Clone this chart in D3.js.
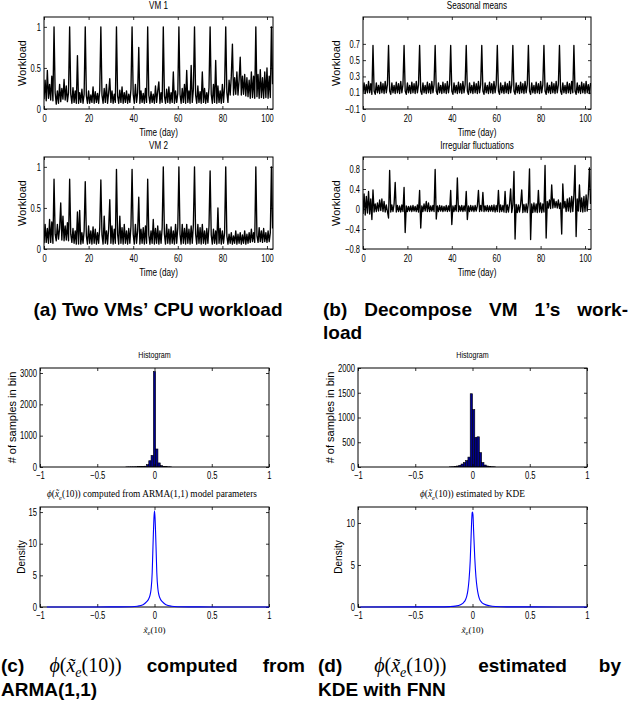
<!DOCTYPE html>
<html><head><meta charset="utf-8">
<script src="https://cdn.jsdelivr.net/npm/d3@7"></script>
<style>body{margin:0;background:#fff}svg{display:block}</style>
</head><body>
<svg id="c" width="638" height="704"></svg>
<script>
// ===================== DATA =====================
const sampleStepDays = 0.5;   // one value every half day
const timeTicks = [0, 20, 40, 60, 80, 100];
const timeTickLabels = ["0", "20", "40", "60", "80", "100"];

const vm1Workload = [
.12,.35,.10,.47,.13,.30,.11,.40,.10,1.0,
.20,.06,.22,.07,.30,.09,.25,.12,.36,.11,
.28,.09,.20,1.0,.18,.07,.26,.08,.22,.07,
.65,.07,.20,.08,.24,.07,.18,1.0,.16,.07,
.22,.07,.17,.08,.27,.07,.21,.08,.19,.07,
.23,1.0,.17,.07,.25,.08,.30,.07,.20,.37,
.08,.22,.07,.18,.08,1.0,.16,.07,.23,.08,
.27,.07,.20,.08,.22,.07,.18,.08,.24,1.0,
.18,.07,.30,.08,.20,.75,.07,.22,.08,.19,
.07,.25,.08,1.0,.17,.07,.21,.08,.18,.07,
.28,.08,.22,.33,.07,.20,.08,1.0,.16,.07,
.24,.08,.27,.07,.20,.08,.45,.07,.22,.08,
.19,1.0,.18,.07,.25,.08,.30,.07,.47,.08,
.22,.07,.53,.08,.24,1.0,.17,.07,.28,.08,
.21,.07,.45,.08,.25,.07,.20,.08,.26,1.0,
.18,.07,.30,.08,.59,.07,.28,.08,.22,.07,
.30,.08,.27,1.0,.20,.08,.35,.17,.40,.79,
.17,.38,.18,.45,.17,.35,.63,.17,.40,.18,
.42,.16,.38,.15,.35,.13,.45,.14,.40,.13,
1.0,.15,.42,.13,.48,.14,.38,.13,.45,.14,
.50,.13,.40,.14,1.0,.30];

const vm2Workload = [
.07,.30,.08,.25,.07,.36,.08,.33,.07,.85,
.18,.10,.30,.12,.25,.56,.11,.40,.10,.28,
.11,.32,.10,.85,.18,.08,.25,.07,.22,.06,
.45,.06,.47,.06,.20,.07,.22,.82,.16,.06,
.28,.07,.22,.06,.27,.07,.24,.06,.20,.07,
.26,.84,.17,.06,.40,.07,.22,.06,.25,.60,
.07,.28,.06,.24,.07,.97,.18,.06,.40,.07,
.26,.06,.30,.07,.22,.06,.25,.07,.28,.97,
.18,.06,.30,.07,.22,.63,.06,.24,.07,.26,
.06,.28,.07,.85,.17,.06,.22,.07,.36,.06,
.25,.07,.28,.06,.22,.07,.26,1.0,.18,.06,
.30,.07,.24,.06,.27,.07,.22,.06,.30,.07,
.26,1.0,.18,.06,.30,.07,.25,.06,.30,.07,
.24,.06,.28,.07,.30,1.0,.18,.06,.30,.07,
.26,.06,.30,.07,.22,.06,.25,.07,.28,.95,
.17,.06,.24,.07,.22,.06,.50,.07,.25,.06,
.22,.07,.20,1.0,.16,.06,.18,.07,.20,.06,
.16,.07,.22,.06,.18,.07,.20,.06,.17,.07,
.22,.06,.18,.07,.20,.08,.24,.09,.20,.08,
1.0,.16,.08,.26,.09,.22,.08,.25,.09,.20,
.08,.22,.09,.20,1.0,.25];

const seasonalMeans = [
.10,.22,.09,.20,.10,.24,.10,.21,.08,.68,
.12,.08,.22,.10,.19,.09,.23,.10,.21,.09,
.24,.10,.20,.68,.12,.08,.22,.10,.19,.09,
.23,.10,.21,.09,.24,.10,.20,.68,.12,.08,
.22,.10,.19,.09,.23,.10,.21,.09,.24,.10,
.20,.68,.12,.08,.22,.10,.19,.09,.23,.10,
.21,.09,.24,.10,.20,.68,.12,.08,.22,.10,
.19,.09,.23,.10,.21,.09,.24,.10,.20,.68,
.12,.08,.22,.10,.19,.09,.23,.10,.21,.09,
.24,.10,.20,.68,.12,.08,.22,.10,.19,.09,
.23,.10,.21,.09,.24,.10,.20,.68,.12,.08,
.22,.10,.19,.09,.23,.10,.21,.09,.24,.10,
.20,.68,.12,.08,.22,.10,.19,.09,.23,.10,
.21,.09,.24,.10,.20,.68,.12,.08,.22,.10,
.19,.09,.23,.10,.21,.09,.24,.10,.20,.68,
.12,.08,.22,.10,.19,.09,.23,.10,.21,.09,
.24,.10,.20,.68,.12,.08,.22,.10,.19,.09,
.23,.10,.21,.09,.24,.10,.20,.68,.12,.08,
.22,.10,.19,.09,.23,.10,.21,.09,.24,.10,
.68,.12,.08,.22,.10,.19,.09,.23,.10,.21,
.09,.24,.10,.20,.09,.22];

const irregularFluctuations = [
-.10,.30,-.12,.25,-.08,.35,-.10,.20,-.21,.38,
-.06,.10,-.05,.12,-.04,.18,-.03,.20,-.05,.15,
-.06,.08,-.05,-.18,.77,-.06,.08,-.05,.10,.53,
-.06,.07,-.05,.06,-.06,.08,-.05,.43,-.47,.06,
-.05,.05,-.04,.06,-.05,.07,-.04,.05,-.05,.08,
-.06,.37,-.38,.06,-.05,.10,-.04,.15,-.05,.12,
-.05,.06,-.04,.07,-.05,.79,-.20,.06,-.05,.07,
-.04,.06,-.05,.05,-.04,.07,-.05,.06,-.04,.37,
-.31,.06,-.05,.07,-.04,.62,-.05,.06,-.04,.07,
-.05,.06,-.04,.35,-.21,.06,-.05,.07,-.04,.06,
-.05,.07,-.04,.06,.37,-.05,.07,-.04,.33,-.05,
.06,-.04,.07,-.05,.06,-.04,.07,-.05,.08,-.06,
.07,-.05,.37,-.06,.08,-.05,.07,-.06,.35,-.07,
.08,-.06,.10,.40,-.07,.08,.75,-.60,.09,-.07,
.08,-.06,.10,.38,-.07,.09,-.06,.10,-.07,.12,
.80,-.61,.10,-.07,.12,-.06,.10,-.07,.37,-.06,
.12,-.07,.10,-.06,.87,-.58,.15,.02,.18,.01,
.48,.02,.20,.03,.15,.02,.18,.01,.12,-.50,
.50,.02,.15,-.05,.20,-.04,.22,-.06,.25,-.05,
.28,.87,-.55,.20,-.04,.48,-.05,.22,-.06,.25,
-.05,.28,-.04,.30,.82,.10];

const vmYTicks = [0, 0.5, 1];
const vmYTickLabels = ["0", "0.5", "1"];
const seasonalYTicks = [-0.1, 0.1, 0.3, 0.5, 0.7];
const seasonalYTickLabels = ["\u22120.1", "0.1", "0.3", "0.5", "0.7"];
const irregularYTicks = [-0.8, -0.4, 0, 0.4, 0.8];
const irregularYTickLabels = ["\u22120.8", "\u22120.4", "0", "0.4", "0.8"];

// histograms (bin centres and counts)
const histBinWidth = 0.02;
const armaBinCenters = [-0.24,-0.22,-0.2,-0.18,-0.16,-0.14,-0.12,-0.10,-0.08,-0.06,-0.04,-0.02,0,0.02,0.04,0.06,0.08,0.10,0.12,0.14];
const armaCounts     = [3,4,5,6,8,10,12,15,25,75,200,370,3050,575,130,45,20,10,6,4];
const kdeBinCenters  = [-0.19,-0.17,-0.15,-0.13,-0.11,-0.09,-0.07,-0.05,-0.03,-0.01,0.01,0.03,0.05,0.07,0.09,0.11,0.13,0.15,0.17,0.19];
const kdeCounts      = [3,5,10,20,35,60,90,130,200,1480,1160,600,610,290,90,40,20,10,5,3];
const histXTicks = [-1, -0.5, 0, 0.5, 1];
const histXTickLabels = ["\u22121", "\u22120.5", "0", "0.5", "1"];
const armaHistYTicks = [0, 1000, 2000, 3000];
const armaHistYTickLabels = ["0", "1000", "2000", "3000"];
const kdeHistYTicks = [0, 500, 1000, 1500, 2000];
const kdeHistYTickLabels = ["0", "500", "1000", "1500", "2000"];

// density curves
const armaDensityX = [-0.94,-0.5,-0.3,-0.2,-0.15,-0.1,-0.07,-0.05,-0.04,-0.03,-0.02,-0.015,-0.01,-0.005,0,0.005,0.01,0.015,0.02,0.03,0.04,0.05,0.07,0.1,0.15,0.2,0.3,0.5,1];
const armaDensityY = [0,0.01,0.02,0.05,0.12,0.35,0.8,1.3,1.8,2.8,5.5,8.5,11.5,14,15.2,14,11.5,8.5,5.5,2.8,1.8,1.3,0.8,0.35,0.12,0.05,0.02,0.01,0];
const kdeDensityX = [-0.98,-0.5,-0.3,-0.2,-0.15,-0.1,-0.08,-0.06,-0.05,-0.04,-0.03,-0.02,-0.012,-0.006,-0.003,0,0.004,0.01,0.02,0.03,0.04,0.05,0.06,0.08,0.1,0.15,0.2,0.3,0.5,1];
const kdeDensityY = [0,0.01,0.02,0.05,0.1,0.3,0.5,0.9,1.3,2.0,3.3,5.5,8.5,10.6,11.2,11.3,11,9,5.8,3.6,2.3,1.5,1.0,0.55,0.35,0.14,0.06,0.02,0.01,0];
const armaDensityYTicks = [0, 5, 10, 15];
const kdeDensityYTicks = [0, 5, 10];

// ===================== DRAWING =====================
const svg = d3.select("#c");
const SANS = "'Liberation Sans',Arial,Helvetica,sans-serif";
const SERIF = "'Liberation Serif','DejaVu Serif',serif";
const SQUEEZE = 0.75;   // the figure's text is horizontally condensed
let clipN = 0;

function squeeze(sel) {
  sel.each(function () {
    const L = this.getComputedTextLength();
    if (L > 0) d3.select(this).attr("textLength", L * SQUEEZE).attr("lengthAdjust", "spacingAndGlyphs");
  });
}

function makePanel(box, xDomain, yDomain) {
  const x = d3.scaleLinear().domain(xDomain).range([box.x0, box.x1]);
  const y = d3.scaleLinear().domain(yDomain).range([box.y1, box.y0]);
  const id = "clip" + (clipN++);
  svg.append("clipPath").attr("id", id).append("rect")
    .attr("x", box.x0).attr("y", box.y0).attr("width", box.x1 - box.x0).attr("height", box.y1 - box.y0);
  const g = svg.append("g");
  const data = g.append("g").attr("clip-path", `url(#${id})`);
  return { x, y, box, g, data };
}

function styleAxis(sel, fs) {
  sel.select(".domain").remove();
  sel.attr("font-family", SANS).attr("font-size", fs);
  sel.selectAll("line").attr("stroke", "#000").attr("stroke-width", 0.8);
  sel.selectAll("text").attr("fill", "#000").call(squeeze);
}

function drawAxes(p, o) {
  const { x, y, box, g } = p;
  const t = 3;
  g.append("g").attr("transform", `translate(0,${box.y1})`)
    .call(d3.axisBottom(x).tickValues(o.xTicks).tickFormat((d, i) => o.xLabels[i]).tickSizeInner(-t).tickSizeOuter(0).tickPadding(o.xPad))
    .call(s => styleAxis(s, o.fs));
  g.append("g").attr("transform", `translate(0,${box.y0})`)
    .call(d3.axisTop(x).tickValues(o.xTicks).tickFormat("").tickSizeInner(-t).tickSizeOuter(0))
    .call(s => styleAxis(s, o.fs));
  g.append("g").attr("transform", `translate(${box.x0},0)`)
    .call(d3.axisLeft(y).tickValues(o.yTicks).tickFormat((d, i) => o.yLabels[i]).tickSizeInner(-t).tickSizeOuter(0).tickPadding(o.yPad))
    .call(s => styleAxis(s, o.fs));
  g.append("g").attr("transform", `translate(${box.x1},0)`)
    .call(d3.axisRight(y).tickValues(o.yTicks).tickFormat("").tickSizeInner(-t).tickSizeOuter(0))
    .call(s => styleAxis(s, o.fs));
  g.append("rect").attr("x", box.x0).attr("y", box.y0)
    .attr("width", box.x1 - box.x0).attr("height", box.y1 - box.y0)
    .attr("fill", "none").attr("stroke", "#000").attr("stroke-width", 1);
}

function label(txt, x, y, fs) {
  return svg.append("text").attr("x", x).attr("y", y).attr("font-size", fs)
    .attr("font-family", SANS).attr("text-anchor", "middle").attr("fill", "#000").text(txt).call(squeeze);
}
function yLabel(txt, cx, cy, fs) {
  svg.append("text").attr("transform", `translate(${cx},${cy}) rotate(-90)`)
    .attr("dy", "0.35em").attr("text-anchor", "middle").attr("font-size", fs)
    .attr("font-family", SANS).attr("fill", "#000").text(txt);
}

// ---- time series panels ----
function seriesPanel(box, values, yDomain, yTicks, yLabels, title, ylabCx) {
  const p = makePanel(box, [0, 102.7], yDomain);
  const line = d3.line().x((d, i) => p.x(i * sampleStepDays)).y(d => p.y(d));
  p.data.append("path").datum(values).attr("d", line)
    .attr("fill", "none").attr("stroke", "#000").attr("stroke-width", 1.35).attr("stroke-linejoin", "round");
  drawAxes(p, { xTicks: timeTicks, xLabels: timeTickLabels, yTicks, yLabels, fs: 10, xPad: 6, yPad: 3 });
  const cx = (box.x0 + box.x1) / 2;
  label(title, cx, box.y0 - 8, 10.8);
  label("Time (day)", cx, box.y1 + 27, 10.9);
  yLabel("Workload", ylabCx, (box.y0 + box.y1) / 2, 10.9);
}
seriesPanel({ x0: 44, x1: 273, y0: 17, y1: 109 }, vm1Workload, [0, 1.12], vmYTicks, vmYTickLabels, "VM 1", 22);
seriesPanel({ x0: 44, x1: 273, y0: 157, y1: 249 }, vm2Workload, [0, 1.12], vmYTicks, vmYTickLabels, "VM 2", 22);
seriesPanel({ x0: 363, x1: 591, y0: 17, y1: 109 }, seasonalMeans, [-0.1, 1.03], seasonalYTicks, seasonalYTickLabels, "Seasonal means", 336);
seriesPanel({ x0: 363, x1: 591, y0: 157, y1: 249 }, irregularFluctuations, [-0.8, 1.04], irregularYTicks, irregularYTickLabels, "Irregular fluctuations", 336);

// ---- math helper ----
function mathText(sel, fs) {
  sel.append("tspan").attr("font-style", "italic").text("\u03D5");
  sel.append("tspan").text("(");
  sel.append("tspan").attr("font-style", "italic").text("x\u0303");
  sel.append("tspan").attr("font-style", "italic").attr("font-size", fs * 0.7).attr("dy", fs * 0.25).text("e");
  sel.append("tspan").attr("dy", -fs * 0.25).text("(10))");
}

// ---- histogram + density panels ----
function histPanel(box, centers, counts, yMax, yTicks, yLabels, ylabCx, xlabelBuilder) {
  const p = makePanel(box, [-1, 1], [0, yMax]);
  p.data.selectAll("rect.bar").data(centers).join("rect").attr("class", "bar")
    .attr("x", c => p.x(c - histBinWidth / 2))
    .attr("width", c => p.x(c + histBinWidth / 2) - p.x(c - histBinWidth / 2))
    .attr("y", (c, i) => p.y(counts[i]))
    .attr("height", (c, i) => p.y(0) - p.y(counts[i]))
    .attr("fill", "#00008F").attr("stroke", "#000").attr("stroke-width", 0.6);
  drawAxes(p, { xTicks: histXTicks, xLabels: histXTickLabels, yTicks, yLabels, fs: 10.2, xPad: 5, yPad: 3 });
  const cx = (box.x0 + box.x1) / 2;
  label("Histogram", cx, box.y0 - 10, 9.5);
  yLabel("# of samples in bin", ylabCx, (box.y0 + box.y1) / 2, 11);
  xlabelBuilder();
}
function densityPanel(box, xs, ys, yMax, yTicks, ylabCx) {
  const p = makePanel(box, [-1, 1], [0, yMax]);
  const line = d3.line().x((d, i) => p.x(xs[i])).y(d => p.y(d)).curve(d3.curveMonotoneX);
  drawAxes(p, { xTicks: histXTicks, xLabels: histXTickLabels, yTicks, yLabels: yTicks.map(String), fs: 10.2, xPad: 5, yPad: 3 });
  p.g.append("path").datum(ys).attr("d", line).attr("fill", "none").attr("stroke", "#0000FF").attr("stroke-width", 1.1);
  yLabel("Density", ylabCx, (box.y0 + box.y1) / 2, 10);
  const t = svg.append("text").attr("x", (box.x0 + box.x1) / 2).attr("y", box.y1 + 26).attr("text-anchor", "middle")
    .attr("font-family", SERIF).attr("font-size", 9).attr("fill", "#000");
  t.append("tspan").attr("font-style", "italic").text("x\u0303");
  t.append("tspan").attr("font-style", "italic").attr("font-size", 6.5).attr("dy", 2).text("e");
  t.append("tspan").attr("dy", -2).text("(10)");
}

histPanel({ x0: 40, x1: 269, y0: 368, y1: 467 }, armaBinCenters, armaCounts, 3160, armaHistYTicks, armaHistYTickLabels, 12, () => {
  const t = svg.append("text").attr("x", 152).attr("y", 497).attr("text-anchor", "middle")
    .attr("font-family", SERIF).attr("font-size", 10).attr("fill", "#000");
  mathText(t, 10);
  t.append("tspan").text(" computed from ARMA(1,1) model parameters");
  t.attr("textLength", 210).attr("lengthAdjust", "spacingAndGlyphs");
});
histPanel({ x0: 358, x1: 587, y0: 368, y1: 467 }, kdeBinCenters, kdeCounts, 2000, kdeHistYTicks, kdeHistYTickLabels, 330, () => {
  const t = svg.append("text").attr("x", 472.5).attr("y", 497).attr("text-anchor", "middle")
    .attr("font-family", SERIF).attr("font-size", 10).attr("fill", "#000");
  mathText(t, 10);
  t.append("tspan").text(" estimated by KDE");
  t.attr("textLength", 105).attr("lengthAdjust", "spacingAndGlyphs");
});
densityPanel({ x0: 40, x1: 269, y0: 507, y1: 607 }, armaDensityX, armaDensityY, 15.8, armaDensityYTicks, 21);
densityPanel({ x0: 358, x1: 587, y0: 507, y1: 607 }, kdeDensityX, kdeDensityY, 11.9, kdeDensityYTicks, 338);

// ---- captions ----
const CAP_FS = 19;
function capWord(w, y) {
  if (w === "MATH") {
    const t = svg.append("text").attr("y", y).attr("font-family", SERIF).attr("font-size", 20).attr("fill", "#000");
    mathText(t, 20);
    return t;
  }
  return svg.append("text").attr("y", y).attr("font-family", SANS).attr("font-weight", "bold")
    .attr("font-size", CAP_FS).attr("fill", "#000").text(w);
}
function captionLine(words, x0, x1, y, mode) {
  const nodes = words.map(w => capWord(w, y));
  const widths = nodes.map(n => n.node().getComputedTextLength());
  const total = d3.sum(widths);
  const gap = mode === "justify" ? (x1 - x0 - total) / (words.length - 1) : CAP_FS * 0.28;
  let cx = mode === "center" ? (x0 + x1) / 2 - (total + gap * (words.length - 1)) / 2 : x0;
  nodes.forEach((n, i) => { n.attr("x", cx); cx += widths[i] + gap; });
}
captionLine(["(a)", "Two", "VMs\u2019", "CPU", "workload"], 0, 316, 316, "center");
captionLine(["(b)", "Decompose", "VM", "1\u2019s", "work-"], 323, 628, 316, "justify");
captionLine(["load"], 323, 628, 339, "left");
captionLine(["(c)", "MATH", "computed", "from"], 1, 305, 672, "justify");
captionLine(["ARMA(1,1)"], 1, 305, 696, "left");
captionLine(["(d)", "MATH", "estimated", "by"], 318, 621, 672, "justify");
captionLine(["KDE", "with", "FNN"], 318, 621, 696, "left");
</script>
</body></html>
